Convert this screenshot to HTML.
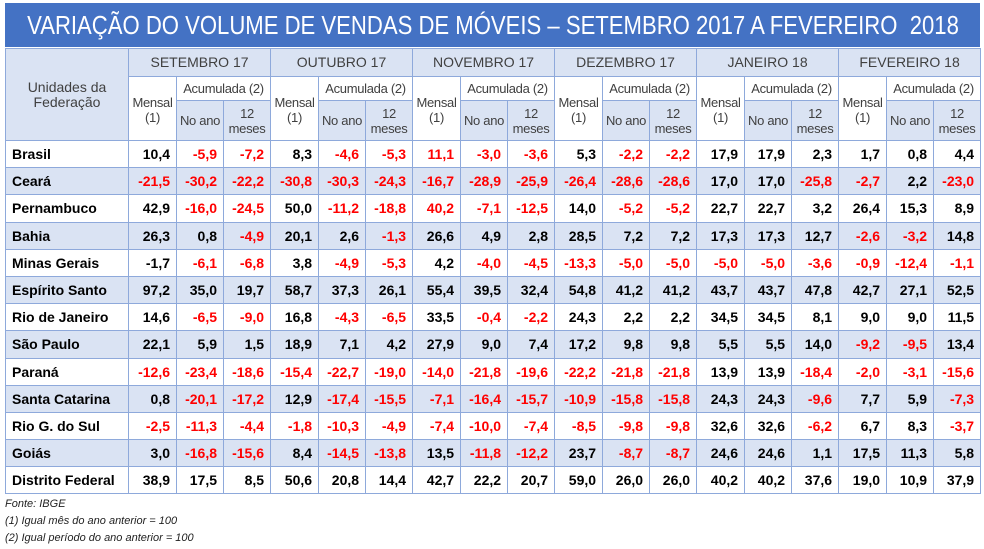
<!DOCTYPE html>
<html><head><meta charset="utf-8">
<style>
*{font-family:"Liberation Sans",Arial,Helvetica,sans-serif;}
body{margin:0;width:984px;height:549px;background:#fff;position:relative;overflow:hidden;}
.title{position:absolute;left:5px;top:3px;width:975px;height:44px;background:#4472C4;color:#fff;line-height:44px;overflow:hidden;}
.title span{position:absolute;left:50%;top:0;font-size:26px;transform:translateX(-50%) scaleX(0.85);white-space:nowrap;}
table{position:absolute;left:5px;top:48px;border-collapse:collapse;table-layout:fixed;width:975px;}
td{border:1px solid #8EA9DB;padding:0;overflow:hidden;white-space:nowrap;}
.h td{background:#DAE3F3;color:#404040;font-size:14px;text-align:center;line-height:15px;}
.h td.w{background:#fff;}
.h td.a{font-size:13px;letter-spacing:-0.3px;}
.d td{font-size:14px;font-weight:bold;text-align:right;padding-right:6px;height:26.2px;color:#000;}
.d td:first-child{text-align:left;padding-left:6px;padding-right:0;}
.d.s td{background:#DAE3F3;}
.d td.r{color:#FF0000;}
.foot{position:absolute;left:5px;top:496px;font-size:11px;font-style:italic;color:#222;line-height:17px;}
</style></head><body>
<div class="title"><span>VARIAÇÃO DO VOLUME DE VENDAS DE MÓVEIS – SETEMBRO 2017 A FEVEREIRO&nbsp; 2018</span></div>
<table>
<colgroup><col style="width:123px">
<col style="width:48px"><col style="width:47px"><col style="width:47px">
<col style="width:48px"><col style="width:47px"><col style="width:47px">
<col style="width:48px"><col style="width:47px"><col style="width:47px">
<col style="width:48px"><col style="width:47px"><col style="width:47px">
<col style="width:48px"><col style="width:47px"><col style="width:47px">
<col style="width:48px"><col style="width:47px"><col style="width:47px">
</colgroup>
<tr class="h" style="height:28px"><td rowspan="3" style="vertical-align:top;padding-top:31px;">Unidades da<br>Federação</td>
<td colspan="3">SETEMBRO 17</td><td colspan="3">OUTUBRO 17</td><td colspan="3">NOVEMBRO 17</td><td colspan="3">DEZEMBRO 17</td><td colspan="3">JANEIRO 18</td><td colspan="3">FEVEREIRO 18</td></tr>
<tr class="h" style="height:24px">
<td rowspan="2" class="w a" style="vertical-align:top;padding-top:18px">Mensal<br>(1)</td><td colspan="2" class="w a">Acumulada (2)</td>
<td rowspan="2" class="w a" style="vertical-align:top;padding-top:18px">Mensal<br>(1)</td><td colspan="2" class="w a">Acumulada (2)</td>
<td rowspan="2" class="w a" style="vertical-align:top;padding-top:18px">Mensal<br>(1)</td><td colspan="2" class="w a">Acumulada (2)</td>
<td rowspan="2" class="w a" style="vertical-align:top;padding-top:18px">Mensal<br>(1)</td><td colspan="2" class="w a">Acumulada (2)</td>
<td rowspan="2" class="w a" style="vertical-align:top;padding-top:18px">Mensal<br>(1)</td><td colspan="2" class="w a">Acumulada (2)</td>
<td rowspan="2" class="w a" style="vertical-align:top;padding-top:18px">Mensal<br>(1)</td><td colspan="2" class="w a">Acumulada (2)</td></tr>
<tr class="h" style="height:40px">
<td class="a">No ano</td><td class="a">12<br>meses</td><td class="a">No ano</td><td class="a">12<br>meses</td><td class="a">No ano</td><td class="a">12<br>meses</td><td class="a">No ano</td><td class="a">12<br>meses</td><td class="a">No ano</td><td class="a">12<br>meses</td><td class="a">No ano</td><td class="a">12<br>meses</td></tr>
<tr class="d"><td>Brasil</td><td>10,4</td><td class="r">-5,9</td><td class="r">-7,2</td><td>8,3</td><td class="r">-4,6</td><td class="r">-5,3</td><td class="r">11,1</td><td class="r">-3,0</td><td class="r">-3,6</td><td>5,3</td><td class="r">-2,2</td><td class="r">-2,2</td><td>17,9</td><td>17,9</td><td>2,3</td><td>1,7</td><td>0,8</td><td>4,4</td></tr>
<tr class="d s"><td>Ceará</td><td class="r">-21,5</td><td class="r">-30,2</td><td class="r">-22,2</td><td class="r">-30,8</td><td class="r">-30,3</td><td class="r">-24,3</td><td class="r">-16,7</td><td class="r">-28,9</td><td class="r">-25,9</td><td class="r">-26,4</td><td class="r">-28,6</td><td class="r">-28,6</td><td>17,0</td><td>17,0</td><td class="r">-25,8</td><td class="r">-2,7</td><td>2,2</td><td class="r">-23,0</td></tr>
<tr class="d"><td>Pernambuco</td><td>42,9</td><td class="r">-16,0</td><td class="r">-24,5</td><td>50,0</td><td class="r">-11,2</td><td class="r">-18,8</td><td class="r">40,2</td><td class="r">-7,1</td><td class="r">-12,5</td><td>14,0</td><td class="r">-5,2</td><td class="r">-5,2</td><td>22,7</td><td>22,7</td><td>3,2</td><td>26,4</td><td>15,3</td><td>8,9</td></tr>
<tr class="d s"><td>Bahia</td><td>26,3</td><td>0,8</td><td class="r">-4,9</td><td>20,1</td><td>2,6</td><td class="r">-1,3</td><td>26,6</td><td>4,9</td><td>2,8</td><td>28,5</td><td>7,2</td><td>7,2</td><td>17,3</td><td>17,3</td><td>12,7</td><td class="r">-2,6</td><td class="r">-3,2</td><td>14,8</td></tr>
<tr class="d"><td>Minas Gerais</td><td>-1,7</td><td class="r">-6,1</td><td class="r">-6,8</td><td>3,8</td><td class="r">-4,9</td><td class="r">-5,3</td><td>4,2</td><td class="r">-4,0</td><td class="r">-4,5</td><td class="r">-13,3</td><td class="r">-5,0</td><td class="r">-5,0</td><td class="r">-5,0</td><td class="r">-5,0</td><td class="r">-3,6</td><td class="r">-0,9</td><td class="r">-12,4</td><td class="r">-1,1</td></tr>
<tr class="d s"><td>Espírito Santo</td><td>97,2</td><td>35,0</td><td>19,7</td><td>58,7</td><td>37,3</td><td>26,1</td><td>55,4</td><td>39,5</td><td>32,4</td><td>54,8</td><td>41,2</td><td>41,2</td><td>43,7</td><td>43,7</td><td>47,8</td><td>42,7</td><td>27,1</td><td>52,5</td></tr>
<tr class="d"><td>Rio de Janeiro</td><td>14,6</td><td class="r">-6,5</td><td class="r">-9,0</td><td>16,8</td><td class="r">-4,3</td><td class="r">-6,5</td><td>33,5</td><td class="r">-0,4</td><td class="r">-2,2</td><td>24,3</td><td>2,2</td><td>2,2</td><td>34,5</td><td>34,5</td><td>8,1</td><td>9,0</td><td>9,0</td><td>11,5</td></tr>
<tr class="d s"><td>São Paulo</td><td>22,1</td><td>5,9</td><td>1,5</td><td>18,9</td><td>7,1</td><td>4,2</td><td>27,9</td><td>9,0</td><td>7,4</td><td>17,2</td><td>9,8</td><td>9,8</td><td>5,5</td><td>5,5</td><td>14,0</td><td class="r">-9,2</td><td class="r">-9,5</td><td>13,4</td></tr>
<tr class="d"><td>Paraná</td><td class="r">-12,6</td><td class="r">-23,4</td><td class="r">-18,6</td><td class="r">-15,4</td><td class="r">-22,7</td><td class="r">-19,0</td><td class="r">-14,0</td><td class="r">-21,8</td><td class="r">-19,6</td><td class="r">-22,2</td><td class="r">-21,8</td><td class="r">-21,8</td><td>13,9</td><td>13,9</td><td class="r">-18,4</td><td class="r">-2,0</td><td class="r">-3,1</td><td class="r">-15,6</td></tr>
<tr class="d s"><td>Santa Catarina</td><td>0,8</td><td class="r">-20,1</td><td class="r">-17,2</td><td>12,9</td><td class="r">-17,4</td><td class="r">-15,5</td><td class="r">-7,1</td><td class="r">-16,4</td><td class="r">-15,7</td><td class="r">-10,9</td><td class="r">-15,8</td><td class="r">-15,8</td><td>24,3</td><td>24,3</td><td class="r">-9,6</td><td>7,7</td><td>5,9</td><td class="r">-7,3</td></tr>
<tr class="d"><td>Rio G. do Sul</td><td class="r">-2,5</td><td class="r">-11,3</td><td class="r">-4,4</td><td class="r">-1,8</td><td class="r">-10,3</td><td class="r">-4,9</td><td class="r">-7,4</td><td class="r">-10,0</td><td class="r">-7,4</td><td class="r">-8,5</td><td class="r">-9,8</td><td class="r">-9,8</td><td>32,6</td><td>32,6</td><td class="r">-6,2</td><td>6,7</td><td>8,3</td><td class="r">-3,7</td></tr>
<tr class="d s"><td>Goiás</td><td>3,0</td><td class="r">-16,8</td><td class="r">-15,6</td><td>8,4</td><td class="r">-14,5</td><td class="r">-13,8</td><td>13,5</td><td class="r">-11,8</td><td class="r">-12,2</td><td>23,7</td><td class="r">-8,7</td><td class="r">-8,7</td><td>24,6</td><td>24,6</td><td>1,1</td><td>17,5</td><td>11,3</td><td>5,8</td></tr>
<tr class="d"><td>Distrito Federal</td><td>38,9</td><td>17,5</td><td>8,5</td><td>50,6</td><td>20,8</td><td>14,4</td><td>42,7</td><td>22,2</td><td>20,7</td><td>59,0</td><td>26,0</td><td>26,0</td><td>40,2</td><td>40,2</td><td>37,6</td><td>19,0</td><td>10,9</td><td>37,9</td></tr>
</table>
<div class="foot">Fonte: IBGE<br>(1) Igual mês do ano anterior = 100<br>(2) Igual período do ano anterior = 100</div>
</body></html>
